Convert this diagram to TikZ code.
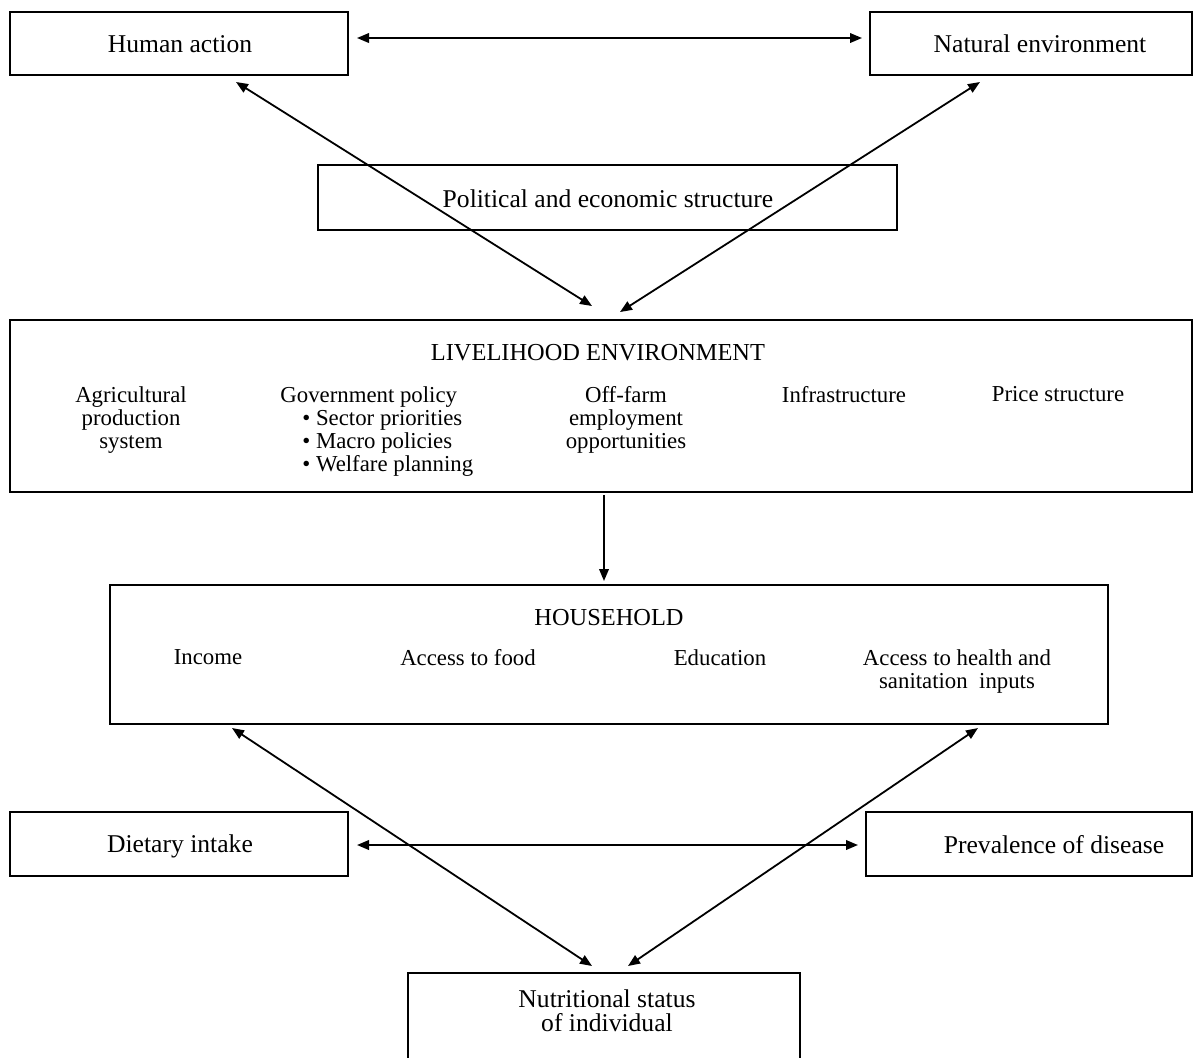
\documentclass[tikz,border=0pt]{standalone}
\usepackage{fontspec}
\setmainfont{Liberation Serif}
\usetikzlibrary{arrows.meta}
\begin{document}
\begin{tikzpicture}[x=0.5pt,y=-0.5pt,
  box/.style={draw, line width=1pt, inner sep=0pt, outer sep=0pt},
  big/.style={font=\fontsize{12.8}{12}\selectfont, inner sep=0pt, align=center},
  title/.style={font=\fontsize{12.2}{12}\selectfont, inner sep=0pt},
  small/.style={font=\fontsize{11.4}{11.5}\selectfont, inner sep=0pt, align=center},
  tip/.tip={Triangle[length=6pt,width=4.8pt]},
  arr/.style={line width=0.9pt, -tip},
  darr/.style={line width=0.9pt, tip-tip}]
\clip (0,0) rectangle (1200,1057);
% boxes
\node[box, minimum width=169pt, minimum height=31.5pt] (ha) at (179,43.5) {};
\node[box, minimum width=161pt, minimum height=31.5pt] (ne) at (1031,43.5) {};
\node[box, minimum width=289.5pt, minimum height=32.5pt] (pe) at (607.5,197.5) {};
\node[box, minimum width=591pt, minimum height=86pt] (le) at (601,406) {};
\node[box, minimum width=499pt, minimum height=69.5pt] (hh) at (609,654.5) {};
\node[box, minimum width=169pt, minimum height=32pt] (di) at (179,844) {};
\node[box, minimum width=163pt, minimum height=32pt] (pd) at (1029,844) {};
\node[box, minimum width=196pt, minimum height=60pt] (ns) at (604,1033) {};
% labels
\node[big] (haT) at (180,44) {Human action};
\node[big] (neT) at (1040,44) {Natural environment};
\node[big] (peT) at (608,199) {Political and economic structure};
\node[title] (leT) at (598,353) {LIVELIHOOD ENVIRONMENT};
\node[small, anchor=north] (le1) at (131,386) {Agricultural\\production\\system};
\node[small, anchor=north west, align=left] (le2) at (280,386) {Government policy\\\hspace{11pt}\textbullet\ Sector priorities\\\hspace{11pt}\textbullet\ Macro policies\\\hspace{11pt}\textbullet\ Welfare planning};
\node[small, anchor=north] (le3) at (626,386) {Off-farm\\employment\\opportunities};
\node[small, anchor=north] (le4) at (844,386) {Infrastructure};
\node[small, anchor=north] (le5) at (1058,386) {Price structure};
\node[title] (hhT) at (609,618) {HOUSEHOLD};
\node[small, anchor=north] (hh1) at (208,649) {Income};
\node[small, anchor=north] (hh2) at (468,649) {Access to food};
\node[small, anchor=north] (hh3) at (720,649) {Education};
\node[small, anchor=north] (hh4) at (957,649) {Access to health and\\sanitation\ \ inputs};
\node[big] (diT) at (180,846) {Dietary intake};
\node[big] (pdT) at (1054,845) {Prevalence of disease};
\node[big] (nsT) at (607,1011) {Nutritional status\\of individual};
% connectors
\draw[darr, shorten <=4.5pt, shorten >=4pt] ([yshift=2.75pt]ha.east) -- ([yshift=2.75pt]ha.east -| ne.west);
\draw[darr] ([xshift=28.5pt,yshift=-3.5pt]ha.south) -- ([xshift=-4.5pt,yshift=7pt]le.north);
\draw[darr] ([xshift=-25.5pt,yshift=-3.5pt]ne.south) -- ([xshift=9.5pt,yshift=4pt]le.north);
\draw[arr, shorten <=1.5pt, shorten >=2pt] ([xshift=1.5pt]le.south) -- ([xshift=1.5pt]le.south |- hh.north);
\draw[darr] ([xshift=61pt,yshift=-2pt]hh.south west) -- ([xshift=-6pt,yshift=3.5pt]ns.north);
\draw[darr] ([xshift=-65pt,yshift=-2pt]hh.south east) -- ([xshift=12pt,yshift=3.5pt]ns.north);
\draw[darr, shorten <=4.5pt, shorten >=4pt] ([yshift=-0.5pt]di.east) -- ([yshift=-0.5pt]di.east -| pd.west);
\end{tikzpicture}
\end{document}
